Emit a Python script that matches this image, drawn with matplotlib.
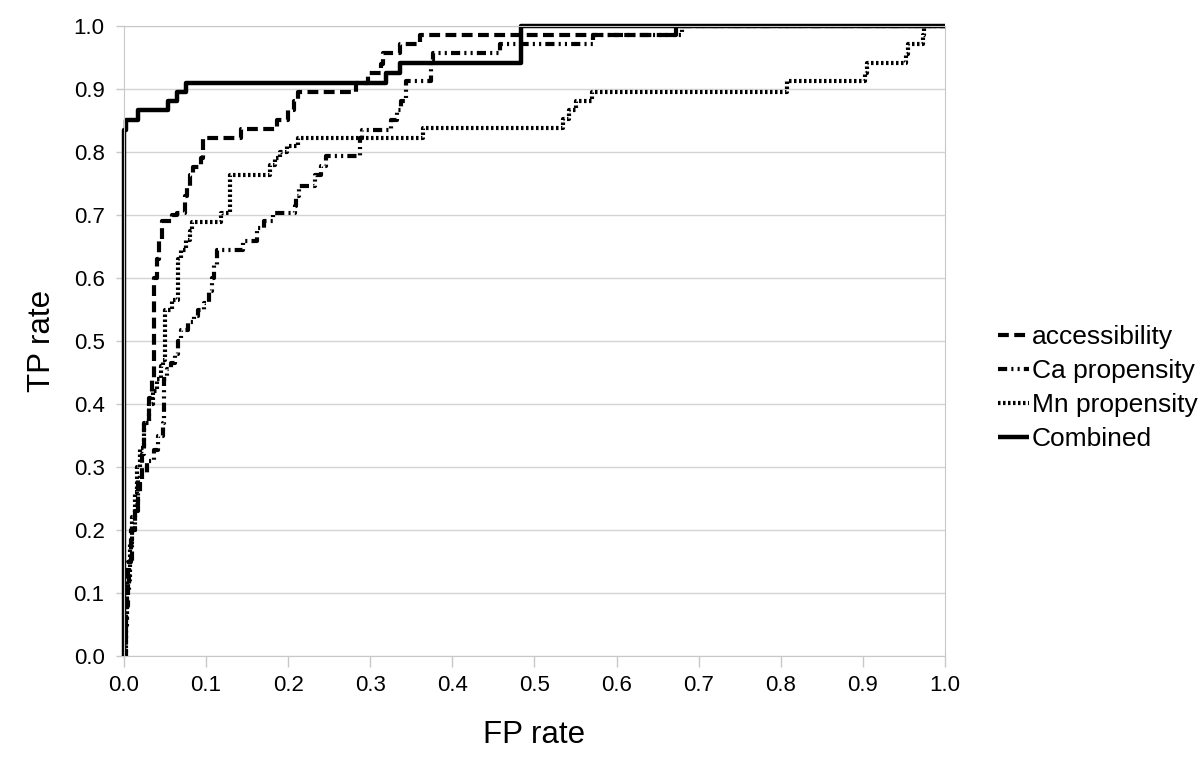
import matplotlib.pyplot as plt

plt.rcParams['font.family'] = ['Liberation Sans', 'DejaVu Sans']

# ROC points (fp, tp), drawn with steps-post
acc_fp = [0, 0.0, 0.003, 0.005, 0.008, 0.013, 0.017, 0.022, 0.025, 0.030, 0.034, 0.036,
          0.040, 0.043, 0.046, 0.058, 0.064, 0.074, 0.077, 0.080, 0.084, 0.094, 0.096,
          0.143, 0.186, 0.200, 0.207, 0.212, 0.283, 0.297, 0.313, 0.316, 0.336, 0.360,
          0.672, 1.0]
acc_tp = [0, 0.02, 0.08, 0.15, 0.20, 0.24, 0.28, 0.32, 0.37, 0.41, 0.44, 0.60,
          0.63, 0.66, 0.69, 0.70, 0.703, 0.73, 0.746, 0.763, 0.777, 0.79, 0.822,
          0.837, 0.851, 0.866, 0.881, 0.896, 0.91, 0.925, 0.94, 0.957, 0.971, 0.986,
          1.0, 1.0]

ca_fp = [0, 0.002, 0.004, 0.006, 0.010, 0.013, 0.017, 0.020, 0.028, 0.037, 0.042, 0.048,
         0.0485, 0.052, 0.057, 0.062, 0.066, 0.070, 0.078, 0.085, 0.090, 0.098, 0.103,
         0.107, 0.110, 0.113, 0.145, 0.162, 0.170, 0.181, 0.208, 0.210, 0.213, 0.233,
         0.240, 0.246, 0.287, 0.288, 0.290, 0.325, 0.333, 0.338, 0.343, 0.374, 0.376,
         0.458, 0.571, 0.680, 1.0]
ca_tp = [0, 0.05, 0.10, 0.15, 0.20, 0.23, 0.26, 0.29, 0.31, 0.327, 0.35, 0.37,
         0.44, 0.455, 0.465, 0.48, 0.50, 0.517, 0.53, 0.54, 0.55, 0.56, 0.58,
         0.60, 0.62, 0.645, 0.658, 0.68, 0.69, 0.703, 0.715, 0.73, 0.746, 0.763,
         0.778, 0.793, 0.808, 0.822, 0.835, 0.851, 0.866, 0.881, 0.912, 0.946, 0.957,
         0.971, 0.986, 1.0, 1.0]

mn_fp = [0, 0.002, 0.004, 0.007, 0.010, 0.013, 0.016, 0.020, 0.025, 0.030, 0.035, 0.040,
         0.045, 0.048, 0.050, 0.058, 0.066, 0.070, 0.076, 0.080, 0.083, 0.118, 0.129,
         0.178, 0.184, 0.190, 0.198, 0.212, 0.364, 0.535, 0.542, 0.550, 0.570, 0.807,
         0.902, 0.905, 0.953, 0.955, 0.973, 0.975, 1.0]
mn_tp = [0, 0.06, 0.12, 0.18, 0.22, 0.26, 0.30, 0.33, 0.37, 0.40, 0.42, 0.44,
         0.46, 0.47, 0.55, 0.565, 0.63, 0.645, 0.66, 0.675, 0.689, 0.703, 0.763,
         0.78, 0.79, 0.80, 0.81, 0.822, 0.838, 0.852, 0.866, 0.881, 0.896, 0.912,
         0.926, 0.941, 0.956, 0.971, 0.986, 1.0, 1.0]

comb_fp = [0, 0.0, 0.002, 0.017, 0.054, 0.064, 0.075, 0.319, 0.336, 0.483, 1.0]
comb_tp = [0, 0.835, 0.851, 0.866, 0.881, 0.896, 0.91, 0.926, 0.941, 1.0, 1.0]

ticks = [i / 10 for i in range(11)]

fig = plt.figure(figsize=(12, 7.59), dpi=100)
ax = fig.add_axes([0.1033, 0.1357, 0.6842, 0.83])

ax.plot(acc_fp, acc_tp, drawstyle='steps-post', color='black', lw=3,
        linestyle=(0, (2.6, 1.3)), label='accessibility')
ax.plot(ca_fp, ca_tp, drawstyle='steps-post', color='black', lw=3,
        linestyle=(0, (2.2, 1.0, 0.5, 1.0, 0.5, 1.0)), label='Ca propensity')
ax.plot(mn_fp, mn_tp, drawstyle='steps-post', color='black', lw=3,
        linestyle=(0, (0.6, 0.6)), label='Mn propensity')
ax.plot(comb_fp, comb_tp, drawstyle='steps-post', color='black', lw=3.2,
        clip_on=False, solid_capstyle='butt', label='Combined')

ax.set_xlim(0, 1)
ax.set_ylim(0, 1)
ax.set_xticks(ticks)
ax.set_yticks(ticks)
ax.set_xticklabels([f'{t:.1f}' for t in ticks], fontsize=16)
ax.set_yticklabels([f'{t:.1f}' for t in ticks], fontsize=16)
ax.tick_params(axis='x', color='#c8c8c8', length=8, width=1, pad=6)
ax.tick_params(axis='y', color='#c8c8c8', length=6, width=1, pad=8)
ax.yaxis.grid(True, color='#d4d4d4', lw=1)
ax.set_axisbelow(True)
for sp in ax.spines.values():
    sp.set_color('#c8c8c8')

ax.set_xlabel('FP rate', fontsize=22.5, labelpad=17)
ax.set_ylabel('TP rate', fontsize=22.5, labelpad=12)

fig.legend(loc='center left', bbox_to_anchor=(0.832, 0.489), frameon=False,
           fontsize=19, handlelength=1.15, handletextpad=0.12, labelspacing=0.38,
           borderaxespad=0, borderpad=0)

fig.savefig('out.png', dpi=100)
